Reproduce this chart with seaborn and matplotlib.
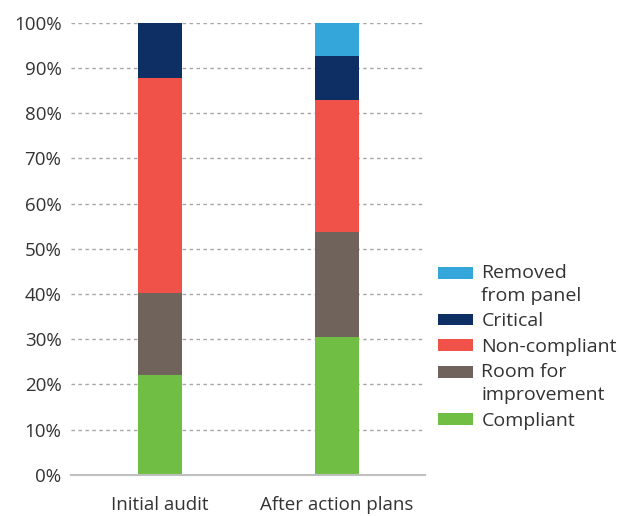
import numpy as np
import pandas as pd
import matplotlib
matplotlib.use("Agg")
import matplotlib.pyplot as plt
import seaborn as sns
from matplotlib.patches import Patch
from matplotlib.legend_handler import HandlerPatch
from matplotlib.ticker import PercentFormatter

stages = ["Initial audit", "After action plans"]
compliant = [22.1, 30.5]
room_for_improvement = [18.2, 23.3]
non_compliant = [47.5, 29.2]
critical = [12.2, 9.7]
removed_from_panel = [0.0, 7.3]

series_labels = ["Compliant", "Room for\nimprovement", "Non-compliant", "Critical", "Removed\nfrom panel"]
series_values = [compliant, room_for_improvement, non_compliant, critical, removed_from_panel]
series_colors = ["#70BF44", "#6F635B", "#F0524A", "#0E2F63", "#35A6DA"]


class HandlerFirstLine(HandlerPatch):
    """Patch handler that lines the swatch up with the first line of a wrapped label."""

    def __init__(self, shift, **kw):
        super().__init__(**kw)
        self.shift = shift

    def create_artists(self, legend, orig_handle, xdescent, ydescent,
                       width, height, fontsize, trans):
        return super().create_artists(legend, orig_handle, xdescent,
                                      ydescent - self.shift, width, height,
                                      fontsize, trans)


sns.set_theme(style="white")
plt.rcParams["font.family"] = ["Open Sans", "DejaVu Sans"]

fig = plt.figure(figsize=(6.19, 5.16), dpi=100)
ax = fig.add_axes([0.115, 0.08, 0.572, 0.876])

bottom = np.zeros(len(stages))
for label, vals, color in zip(series_labels, series_values, series_colors):
    df = pd.DataFrame({"stage": stages, "value": vals})
    sns.barplot(data=df, x="stage", y="value", color=color, width=0.247,
                bottom=bottom, ax=ax, saturation=1, linewidth=0, zorder=3)
    bottom = bottom + np.array(vals)

ax.set_xlim(-0.5, 1.5)
ax.set_ylim(0, 100)
ax.set_yticks(np.arange(0, 101, 10))
ax.yaxis.set_major_formatter(PercentFormatter(decimals=0))
ax.set_xlabel("")
ax.set_ylabel("")
for y in range(10, 101, 10):
    ax.axhline(y, color="#A6A6A6", linestyle=(0, (2.5, 2.5)), linewidth=1.0, zorder=1)
for s in ["top", "right", "left"]:
    ax.spines[s].set_visible(False)
ax.spines["bottom"].set_color("#BFBFBF")
ax.spines["bottom"].set_linewidth(1.5)
ax.spines["bottom"].set_zorder(4)
ax.tick_params(axis="y", length=0, labelsize=13.5, colors="#333333", pad=7)
ax.tick_params(axis="x", length=0, labelsize=13.5, colors="#333333", pad=15)

handles = [Patch(facecolor=c, edgecolor="none") for c in series_colors][::-1]
labels = series_labels[::-1]
handler_map = {h: HandlerFirstLine(8.3) for h, l in zip(handles, labels) if "\n" in l}
leg = fig.legend(handles, labels, loc="upper left", bbox_to_anchor=(0.704, 0.493),
                 frameon=False, fontsize=14, handlelength=1.8, handleheight=0.55,
                 handletextpad=0.45, labelspacing=0.37, labelcolor="#333333",
                 borderaxespad=0, borderpad=0.1, handler_map=handler_map)
for t in leg.get_texts():
    t.set_linespacing(1.4)

fig.savefig("out.png", dpi=100)
